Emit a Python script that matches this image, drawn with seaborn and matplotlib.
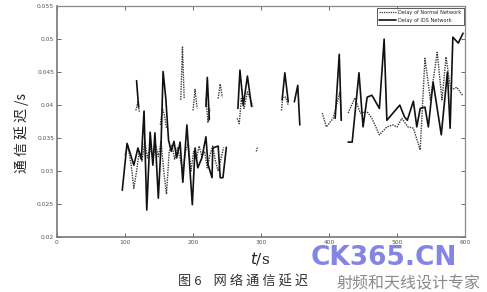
import numpy as np
import pandas as pd
import matplotlib
matplotlib.use("Agg")
import matplotlib.pyplot as plt
import seaborn as sns
from matplotlib.lines import Line2D

nan = np.nan

# ---- data (NaN separates disconnected segments) ----
ids_t = [96, 103, 107, 113, 119, 124, 128, 132, 137, 141, 144, 149, 153, 156, 160, 164, 168, 172, 176,
         181, 185, 191, 199, 203, 207, 213, 219, 222, 228, 229, 237, 240, 244, 249, nan,
         117, 120, nan,
         219, 221, 224, nan,
         266, 269, 274, 280, 286, nan,
         331, 335, 340, nan,
         349, 354, 357, nan,
         409, 415, 418, nan,
         428, 434, 444, 450, 456, 463, 474, 481, 485, 494, 504, 511, 515, 524, 529, 534, 541, 546,
         553, 565, 574, 578, 582, 590, 597]
ids_delay = [.0271, .0342, .0329, .0309, .0335, .0318, .0391, .0241, .0359, .0309, .0358, .0259, .0340,
             .0451, .0410, .0347, .0330, .0345, .0320,
             .0344, .0283, .0370, .0249, .0335, .0305, .0320, .0352, .0310, .0290, .0335, .0338, .0290,
             .0290, .0336, nan,
             .0437, .0397, nan,
             .0398, .0442, .0378, nan,
             .0395, .0453, .0400, .0444, .0398, nan,
             .0408, .0449, .0405, nan,
             .0405, .0430, .0370, nan,
             .0380, .0477, .0377, nan,
             .0344, .0344, .0449, .0367, .0412, .0415, .0395, .0500, .0377, .0388, .0400, .0382, .0377,
             .0406, .0367, .0395, .0397, .0367,
             .0435, .0355, .0450, .0365, .0503, .0494, .0509]

normal_t = [100, 104, 109, 113, 117, 121, 125, 129, 133, 137, 141, 145, 149, 153, 157, 161, 165, 169, 173,
            177, 181, 185, 189, 193, 197, 201, 205, 209, 213, 217, 221, 225, 229, 233, 237, 241, 245, nan,
            116, 119, 121, nan,
            152, 155, 158, 161, nan,
            182, 184.5, 187, nan,
            200, 203, 206, nan,
            219, 222, 225, nan,
            237, 240, 243, nan,
            265, 268, 271, 275, 280, 284, 288, nan,
            293, 295, nan,
            330, 332, 336, 340, nan,
            390, 396, 406, 416, 418, nan,
            428, 438, 446, 456, 463, 474, 485, 494, 500, 507, 516, 524, 534, 541, 549, 559, 566, 572,
            579, 588, 596]
normal_delay = [.0324, .0339, .0310, .0274, .0300, .0330, .0315, .0345, .0320, .0336, .0318, .0340, .0322,
                .0345, .0300, .0265, .0330, .0340, .0318,
                .0335, .0320, .0300, .0330, .0342, .0300, .0330, .0318, .0338, .0322, .0330, .0305, .0325,
                .0338, .0315, .0300, .0318, .0336, nan,
                .0392, .0405, .0390, nan,
                .0370, .0395, .0385, .0365, nan,
                .0408, .0488, .0410, nan,
                .0392, .0424, .0395, nan,
                .0410, .0374, .0395, nan,
                .0410, .0432, .0412, nan,
                .0380, .0372, .0410, .0395, .0420, .0410, .0398, nan,
                .0330, .0337, nan,
                .0392, .0412, .0412, .0400, nan,
                .0388, .0367, .0380, .0420, .0377, nan,
                .0388, .0411, .0388, .0390, .0380, .0355, .0367, .0370, .0367, .0380, .0367, .0365, .0332,
                .0471, .0408, .0480, .0408, .0473,
                .0423, .0427, .0415]

x_ticks = [0, 100, 200, 300, 400, 500, 600]
y_ticks = [0.02, 0.025, 0.03, 0.035, 0.04, 0.045, 0.05, 0.055]
series_names = ["Delay of Normal Network", "Delay of IDS Network"]


def segments(ts, vs):
    seg_id = np.cumsum(np.isnan(np.array(ts, dtype=float)))
    df = pd.DataFrame({"t": ts, "v": vs, "seg": seg_id}).dropna()
    return [g for _, g in df.groupby("seg")]


sns.set_style("ticks")
plt.rcParams['font.family'] = ['DejaVu Sans', 'Noto Sans CJK SC']

fig = plt.figure(figsize=(4.87, 2.92), dpi=100)
ax = fig.add_axes([0.117, 0.188, 0.838, 0.791])

for g in segments(normal_t, normal_delay):
    sns.lineplot(data=g, x="t", y="v", ax=ax, color="#3a3a3a", linestyle=(0, (1, 0.8)),
                 linewidth=1.0, estimator=None, sort=False, legend=False)
for g in segments(ids_t, ids_delay):
    sns.lineplot(data=g, x="t", y="v", ax=ax, color="#111111", linewidth=1.2,
                 estimator=None, sort=False, legend=False)

ax.set_xlim(0, 600)
ax.set_ylim(0.02, 0.055)
ax.set_xticks(x_ticks)
ax.set_yticks(y_ticks)
ax.set_xticklabels([str(v) for v in x_ticks])
ax.set_yticklabels([f"{v:g}" for v in y_ticks])
ax.tick_params(direction="in", length=3, width=0.6, labelsize=4.3, colors="#555555",
               top=True, right=True, pad=2)
for side in ["top", "right"]:
    ax.spines[side].set_color("#888888")
    ax.spines[side].set_linewidth(0.9)
for side in ["left", "bottom"]:
    ax.spines[side].set_color("#777777")
    ax.spines[side].set_linewidth(1.2)
ax.set_xlabel("")
ax.set_ylabel("")

handles = [Line2D([], [], color="#3a3a3a", linestyle=(0, (1, 0.8)), linewidth=0.9),
           Line2D([], [], color="#111111", linewidth=1.2)]
leg = ax.legend(handles, series_names, loc="upper right", fontsize=3.6, frameon=True,
                fancybox=False, borderpad=0.45, handlelength=3.3, labelspacing=0.6,
                handletextpad=0.5, borderaxespad=0.3)
leg.get_frame().set_edgecolor("#333333")
leg.get_frame().set_linewidth(0.7)

fig.text(0.045, 0.545, "通 信 延 迟 /s", rotation=90, ha="center", va="center",
         fontsize=10, family=["Noto Sans CJK SC"], color="#222222")
fig.text(0.535, 0.115, r"$t$/s", ha="center", va="center", fontsize=11, color="#222222",
         family="DejaVu Serif")
fig.text(0.50, 0.035, "图 6    网 络 通 信 延 迟", ha="center", va="center", fontsize=9.5,
         family=["Noto Sans CJK SC"], color="#333333")
fig.text(0.637, 0.115, "CK365.CN", ha="left", va="center", fontsize=19, fontweight="bold",
         color="#6f6fe0", alpha=0.85)
fig.text(0.69, 0.028, "射频和天线设计专家", ha="left", va="center", fontsize=11.5,
         family=["Noto Sans CJK SC"], color="#8a8a8a")

fig.savefig("out.png", dpi=100)
